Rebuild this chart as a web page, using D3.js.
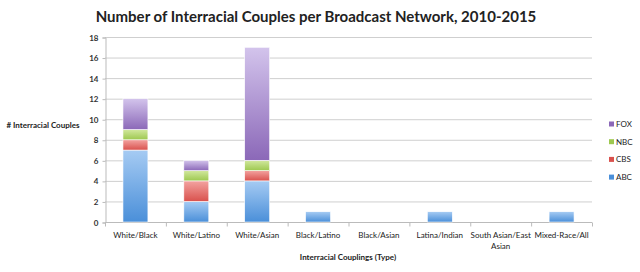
<!DOCTYPE html>
<html>
<head>
<meta charset="utf-8">
<title>Interracial Couples</title>
<script src="https://d3js.org/d3.v7.min.js"></script>
<style>
  body { margin: 0; background: #fff; }
  text { font-family: Lato, "Open Sans", sans-serif; fill: #222; }
</style>
</head>
<body>
<div id="chart"></div>
<script>
// data
let categories = ["White/Black", "White/Latino", "White/Asian", "Black/Latino",
                  "Black/Asian", "Latina/Indian", "South Asian/East Asian", "Mixed-Race/All"];
let networks = ["ABC", "CBS", "NBC", "FOX"];
let abc = [7, 2, 4, 1, 0, 1, 0, 1];
let cbs = [1, 2, 1, 0, 0, 0, 0, 0];
let nbc = [1, 1, 1, 0, 0, 0, 0, 0];
let fox = [3, 1, 11, 0, 0, 0, 0, 0];
let yTicks = [0, 2, 4, 6, 8, 10, 12, 14, 16, 18];

let colors = {
  ABC: ["#a6cbf3", "#4a8fd9"],
  CBS: ["#f3a3a0", "#d9514d"],
  NBC: ["#d2e89e", "#9dc84f"],
  FOX: ["#d3c4ec", "#8b68b8"]
};

let w = 640, h = 272;
let margin = {top: 37, right: 48, bottom: 50, left: 105};

let svg = d3.select("#chart").append("svg")
  .attr("width", w).attr("height", h);

let defs = svg.append("defs");
networks.forEach(function(n) {
  let g = defs.append("linearGradient").attr("id", "grad" + n)
    .attr("x1", 0).attr("y1", 0).attr("x2", 0).attr("y2", 1);
  g.append("stop").attr("offset", "0%").attr("stop-color", colors[n][0]);
  g.append("stop").attr("offset", "100%").attr("stop-color", colors[n][1]);
});

let rows = categories.map(function(c, i) {
  return {cat: c, ABC: abc[i], CBS: cbs[i], NBC: nbc[i], FOX: fox[i]};
});
let stacked = d3.stack().keys(networks)(rows);

let x = d3.scaleBand().domain(categories)
  .range([margin.left, w - margin.right]).paddingInner(0.59).paddingOuter(0.295);
let xb = d3.scaleBand().domain(categories).range([margin.left, w - margin.right]);
let y = d3.scaleLinear().domain([0, 18]).range([h - margin.bottom, margin.top]);

// gridlines
svg.append("g").selectAll("line").data(yTicks.slice(1)).enter().append("line")
  .attr("x1", margin.left).attr("x2", w - margin.right)
  .attr("y1", function(d) { return y(d) + 0.5; })
  .attr("y2", function(d) { return y(d) + 0.5; })
  .attr("stroke", "#cfcfcf").attr("stroke-width", 1);

// y axis
let yAxis = svg.append("g").attr("transform", "translate(" + (margin.left + 0.5) + ",0.5)")
  .call(d3.axisLeft(y).tickValues(yTicks).tickSize(3).tickPadding(4));
yAxis.select(".domain").attr("stroke", "#bbb");
yAxis.selectAll(".tick line").attr("stroke", "#bbb");
yAxis.selectAll("text").attr("font-size", "8px").attr("font-weight", "bold").style("fill", "#333");

// x axis
let xAxisG = svg.append("g").attr("transform", "translate(0," + (y(0) + 0.5) + ")");
xAxisG.append("line").attr("x1", margin.left).attr("x2", w - margin.right)
  .attr("stroke", "#bbb");
xAxisG.selectAll(".xt").data(categories.concat(["end"])).enter().append("line")
  .attr("x1", function(d, i) { return margin.left + i * xb.bandwidth() + 0.5; })
  .attr("x2", function(d, i) { return margin.left + i * xb.bandwidth() + 0.5; })
  .attr("y1", 0).attr("y2", 4).attr("stroke", "#bbb");

let labels = svg.append("g").selectAll("text").data(categories).enter().append("text")
  .attr("x", function(d) { return xb(d) + xb.bandwidth() / 2; })
  .attr("y", 238)
  .attr("text-anchor", "middle").attr("font-size", "8px");
labels.each(function(d) {
  let t = d3.select(this);
  if (d === "South Asian/East Asian") {
    t.append("tspan").attr("x", t.attr("x")).text("South Asian/East");
    t.append("tspan").attr("x", t.attr("x")).attr("dy", 11).text("Asian");
  } else {
    t.text(d);
  }
});

// bars
svg.append("g").selectAll("g").data(stacked).enter().append("g")
  .attr("fill", function(d) { return "url(#grad" + d.key + ")"; })
  .selectAll("rect").data(function(d) { return d; }).enter().append("rect")
  .filter(function(d) { return d[1] > d[0]; })
  .attr("x", function(d) { return x(d.data.cat); })
  .attr("y", function(d) { return y(d[1]); })
  .attr("width", x.bandwidth())
  .attr("height", function(d) { return y(d[0]) - y(d[1]); })
  .attr("stroke", "#fff").attr("stroke-width", 0.6);

// legend
let legend = svg.append("g").selectAll("g").data(networks.slice().reverse()).enter().append("g")
  .attr("transform", function(d, i) { return "translate(609," + (124 + i * 17.7) + ")"; });
legend.append("rect").attr("x", 0).attr("y", -2.5).attr("width", 5).attr("height", 5)
  .attr("fill", function(d) { return colors[d][1]; });
legend.append("text").attr("x", 7).attr("y", 3).attr("font-size", "8px").text(function(d) { return d; });

// titles
svg.append("text").attr("x", 316).attr("y", 22).attr("text-anchor", "middle")
  .attr("font-size", "15px").attr("font-weight", "bold")
  .text("Number of Interracial Couples per Broadcast Network, 2010-2015");
svg.append("text").attr("x", 348).attr("y", 260).attr("text-anchor", "middle")
  .attr("font-size", "8px").attr("font-weight", "bold")
  .text("Interracial Couplings (Type)");
svg.append("text").attr("x", 43).attr("y", 128).attr("text-anchor", "middle")
  .attr("font-size", "8px").attr("font-weight", "bold")
  .text("# Interracial Couples");
</script>
</body>
</html>
